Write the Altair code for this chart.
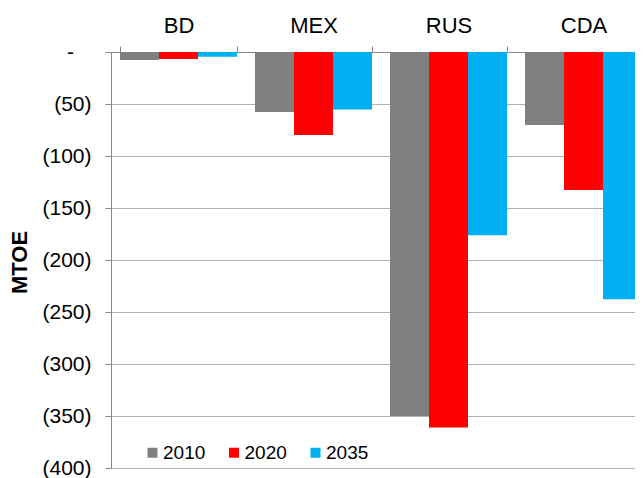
import altair as alt
import pandas as pd

countries = ["BD", "MEX", "RUS", "CDA"]
years = ["2010", "2020", "2035"]
v2010 = [-7.7, -57.7, -350.0, -70.2]
v2020 = [-6.7, -79.8, -361.0, -132.7]
v2035 = [-4.5, -55.2, -176.3, -237.8]
colors = ["#808080", "#FF0000", "#00B0F0"]

rows = []
for i, c in enumerate(countries):
    for y, vals in zip(years, [v2010, v2020, v2035]):
        rows.append({"country": c, "year": y, "value": vals[i]})
df = pd.DataFrame(rows)

FONT = "Liberation Sans"
NB = "\u00a0"
zero_label = "-" + NB * 3 + "\u200b"

chart = alt.Chart(df).mark_bar().encode(
    x=alt.X(
        "country:N",
        sort=countries,
        scale=alt.Scale(range=[0, 540], paddingInner=18 / 135, paddingOuter=9 / 135),
        axis=alt.Axis(
            orient="top", title=None, labelAngle=0, labelFontSize=22,
            labelColor="#000000", labelFont=FONT, tickBand="extent",
            tickSize=6, tickColor="#888888", domainColor="#888888",
            labelPadding=9, grid=False,
        ),
    ),
    xOffset=alt.XOffset("year:N", sort=years,
                        scale=alt.Scale(paddingInner=0, paddingOuter=0)),
    y=alt.Y(
        "value:Q",
        scale=alt.Scale(domain=[-400, 0], nice=False, zero=False),
        axis=alt.Axis(
            values=list(range(-400, 1, 50)),
            labelExpr="datum.value == 0 ? '" + zero_label + "' : '(' + format(-datum.value, ',') + ')'",
            title="MTOE", titleFontSize=22, titleFontWeight="bold", titleFont=FONT,
            titleColor="#000000", titleX=-92, titleY=210, titleAngle=270,
            titleAlign="center", titleBaseline="middle",
            labelFontSize=21, labelFont=FONT, labelColor="#000000",
            labelPadding=14, tickSize=6, tickColor="#888888",
            domainColor="#888888", grid=True, gridColor="#B0B0B0",
        ),
    ),
    color=alt.Color(
        "year:N", sort=years,
        scale=alt.Scale(domain=years, range=colors),
        legend=alt.Legend(
            title=None, orient="none", direction="horizontal",
            legendX=32, legendY=391, symbolType="square", symbolSize=100,
            symbolStrokeWidth=0, labelFontSize=19, labelFont=FONT,
            labelColor="#000000", labelOffset=1, columnPadding=18.5,
        ),
    ),
).properties(
    width=524, height=416,
    autosize=alt.AutoSizeParams(type="none"),
    padding={"left": 103, "top": 44, "right": 0, "bottom": 10},
).configure_view(stroke=None).configure_axis(
    labelFont=FONT, titleFont=FONT
)

chart.save("out.html", embed_options={"renderer": "svg", "actions": False})
